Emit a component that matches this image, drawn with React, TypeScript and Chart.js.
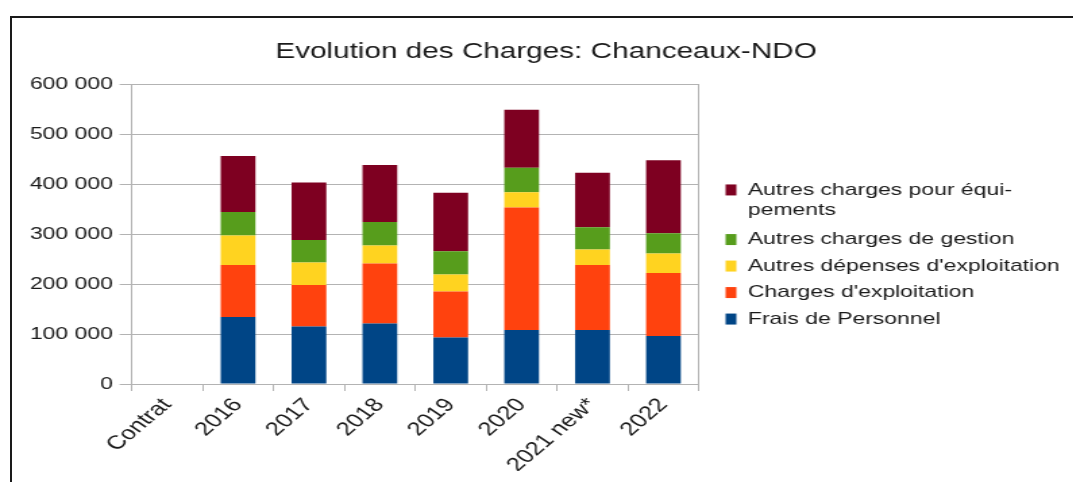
import React, { useEffect, useRef } from 'react';
import { Chart, registerables } from 'chart.js';

Chart.register(...registerables);

// ---- data ----
const categories = ['Contrat', '2016', '2017', '2018', '2019', '2020', '2021 new*', '2022'];
const fraisPersonnel = [null, 134000, 115000, 121000, 93000, 108000, 108000, 96000];
const chargesExploitation = [null, 104000, 83000, 120000, 92000, 245000, 130000, 126000];
const autresDepenses = [null, 59000, 45000, 36000, 34000, 30500, 31000, 39000];
const autresGestion = [null, 47000, 45000, 47000, 46500, 49000, 44500, 40500];
const autresEquipements = [null, 112000, 115000, 114000, 117000, 116000, 109000, 146000];

const seriesLabels = [
  'Frais de Personnel',
  "Charges d'exploitation",
  "Autres dépenses d'exploitation",
  'Autres charges de gestion',
  'Autres charges pour équipements',
];
const seriesColors = ['#004586', '#ff420e', '#ffd320', '#579d1c', '#7e0021'];
const legendWrapped: Record<string, string[]> = {
  'Autres charges pour équipements': ['Autres charges pour équi-', 'pements'],
};
const chartTitle = 'Evolution des Charges: Chanceaux-NDO';
const yMin = 0;
const yMax = 600000;
const yStep = 100000;

// ---- style ----
const FONT = "'Liberation Sans', Arial, sans-serif";
const TEXT = '#1a1a1a';
const GRID = '#b3b3b3';
const STRETCH = 1.35;
const INNER_W = 791;
const INNER_H = 464;

const fmt = (v: number) => String(v).replace(/\B(?=(\d{3})+(?!\d))/g, ' ');

export default function App() {
  const ref = useRef<HTMLCanvasElement>(null);

  useEffect(() => {
    document.body.style.margin = '0';
    document.body.style.overflow = 'hidden';
    const values = [fraisPersonnel, chargesExploitation, autresDepenses, autresGestion, autresEquipements];
    const chart = new Chart(ref.current as HTMLCanvasElement, {
      type: 'bar',
      data: {
        labels: categories,
        datasets: values.map((d, i) => ({
          label: seriesLabels[i],
          data: d,
          backgroundColor: seriesColors[i],
          borderWidth: 0,
          categoryPercentage: 1,
          barPercentage: 0.49,
        })),
      },
      options: {
        responsive: true,
        maintainAspectRatio: false,
        animation: false,
        layout: { padding: { left: 12, right: 0, top: 0, bottom: 11 } },
        plugins: {
          title: {
            display: true,
            text: chartTitle,
            color: TEXT,
            font: { family: FONT, size: 22, weight: 'normal', lineHeight: 1.2 },
            padding: { top: 20.4, bottom: 19.3 },
          },
          legend: {
            position: 'right',
            reverse: true,
            maxWidth: 266,
            title: { display: true, text: ' ', font: { family: FONT, size: 20, lineHeight: 1 }, padding: 0 },
            labels: {
              boxWidth: 8,
              boxHeight: 11,
              padding: 9.5,
              color: TEXT,
              font: { family: FONT, size: 17, lineHeight: 1.18 },
              generateLabels: (c: any) => {
                const items = (Chart.defaults as any).plugins.legend.labels.generateLabels(c);
                return items.map((it: any) =>
                  legendWrapped[it.text] ? { ...it, text: legendWrapped[it.text] } : it
                );
              },
            },
          },
          tooltip: { enabled: false },
        },
        scales: {
          x: {
            stacked: true,
            afterFit: (s: any) => {
              s.height = 87;
            },
            grid: { display: true, drawOnChartArea: false, drawTicks: true, tickLength: 7, color: GRID, offset: true },
            border: { display: true, color: GRID },
            ticks: {
              color: TEXT,
              font: { family: FONT, size: 19 },
              minRotation: 48.5,
              maxRotation: 48.5,
              autoSkip: false,
              padding: 3,
            },
          },
          y: {
            stacked: true,
            min: yMin,
            max: yMax,
            afterFit: (s: any) => {
              s.width = 82.6;
            },
            grid: { color: GRID, tickLength: 9 },
            border: { color: GRID },
            ticks: {
              stepSize: yStep,
              padding: 5,
              color: TEXT,
              font: { family: FONT, size: 17 },
              callback: (v: any) => fmt(Number(v)),
            },
          },
          y2: {
            position: 'right',
            display: true,
            grid: { drawOnChartArea: false, drawTicks: true, tickLength: 10.3, color: 'transparent' },
            border: { display: true, color: GRID },
            ticks: { display: false },
          },
        },
      } as any,
    });
    return () => chart.destroy();
  }, []);

  return (
    <div style={{ position: 'relative', width: 1073, height: 482, overflow: 'hidden', background: '#fff' }}>
      <div
        style={{
          position: 'absolute',
          left: 10,
          top: 16,
          width: 1100,
          height: 500,
          borderTop: '2px solid #1a1a1a',
          borderLeft: '2px solid #1a1a1a',
        }}
      />
      <div
        style={{
          position: 'absolute',
          left: 4,
          top: 18,
          width: INNER_W,
          height: INNER_H,
          transform: `scaleX(${STRETCH})`,
          transformOrigin: '0 0',
        }}
      >
        <canvas ref={ref} />
      </div>
    </div>
  );
}
